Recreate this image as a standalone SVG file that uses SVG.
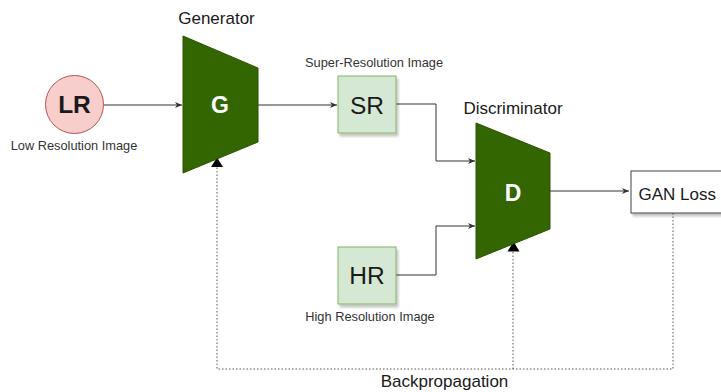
<svg xmlns="http://www.w3.org/2000/svg" width="721" height="392" viewBox="0 0 721 392">
  <style>
    text { font-family: "Liberation Sans", Arial, sans-serif; fill: #1a1a1a; }
    .cap { font-size: 12.8px; fill: #333; }
    .title { font-size: 17px; }
    .big { font-size: 24.5px; }
    .bold { font-weight: bold; }
    .white { fill: #ffffff; }
    .net { fill: #336600; stroke: #2a5200; stroke-width: 1; }
    .img { fill: #d5e8d4; stroke: #82b366; stroke-width: 1; }
    .flow { fill: none; stroke: #333333; stroke-width: 1; }
    .back { fill: none; stroke: #555555; stroke-width: 1; stroke-dasharray: 1.5 2; }
  </style>
  <defs>
    <marker id="arrow" viewBox="0 0 8 8" refX="7" refY="4" markerWidth="8" markerHeight="8" markerUnits="userSpaceOnUse" orient="auto">
      <path d="M0,1 L7,4 L0,7 L2,4 Z" fill="#333333"/>
    </marker>
    <filter id="shadow" x="-20%" y="-20%" width="140%" height="140%">
      <feDropShadow dx="2" dy="3" stdDeviation="1.2" flood-color="#000" flood-opacity="0.22"/>
    </filter>
  </defs>

  <!-- connectors -->
  <g id="connectors">
    <path class="flow" d="M103,105 H182" marker-end="url(#arrow)"/>
    <path class="flow" d="M258,105 H337" marker-end="url(#arrow)"/>
    <path class="flow" d="M396,104 H436 V161 H475" marker-end="url(#arrow)"/>
    <path class="flow" d="M396,275 H436 V226 H475" marker-end="url(#arrow)"/>
    <path class="flow" d="M550,191 H629" marker-end="url(#arrow)"/>
    <!-- backpropagation paths -->
    <path class="back" d="M673,213 V369 H217 V167"/>
    <path class="back" d="M513,369 V252"/>
    <path d="M217,157.5 L223,167 L211,167 Z" fill="#000"/>
    <path d="M513.5,241.5 L519.5,251.5 L507.5,251.5 Z" fill="#000"/>
  </g>

  <!-- low resolution input -->
  <g id="lr">
    <circle cx="74.5" cy="104.5" r="29" fill="#f8cecc" stroke="#b85450" stroke-width="1"/>
    <text x="74.5" y="113" text-anchor="middle" class="big bold">LR</text>
    <text x="74" y="150" text-anchor="middle" class="cap">Low Resolution Image</text>
  </g>

  <!-- generator -->
  <g id="generator">
    <text x="216.5" y="24" text-anchor="middle" class="title">Generator</text>
    <path class="net" d="M183,36 L258,68 L258,142 L183,173 Z"/>
    <text x="220" y="113" text-anchor="middle" class="bold white" font-size="23">G</text>
  </g>

  <!-- super-resolution output -->
  <g id="sr">
    <text x="374" y="67" text-anchor="middle" class="cap">Super-Resolution Image</text>
    <rect class="img" x="338" y="76" width="58" height="57" filter="url(#shadow)"/>
    <text x="367" y="114" text-anchor="middle" class="big">SR</text>
  </g>

  <!-- high resolution reference -->
  <g id="hr">
    <rect class="img" x="338" y="247" width="58" height="57" filter="url(#shadow)"/>
    <text x="367" y="284" text-anchor="middle" class="big">HR</text>
    <text x="370" y="320.5" text-anchor="middle" class="cap">High Resolution Image</text>
  </g>

  <!-- discriminator -->
  <g id="discriminator">
    <text x="513" y="114" text-anchor="middle" class="title">Discriminator</text>
    <path class="net" d="M476,123 L550,153 L550,229 L476,259 Z"/>
    <text x="513" y="201" text-anchor="middle" class="bold white" font-size="23">D</text>
  </g>

  <!-- loss -->
  <g id="gan-loss">
    <rect x="631" y="171" width="110" height="42" fill="#ffffff" stroke="#444444" stroke-width="1" filter="url(#shadow)"/>
    <text x="638.5" y="200" class="title">GAN Loss</text>
  </g>

  <g id="backprop-label">
    <text x="444.5" y="387" text-anchor="middle" class="title">Backpropagation</text>
  </g>
</svg>
